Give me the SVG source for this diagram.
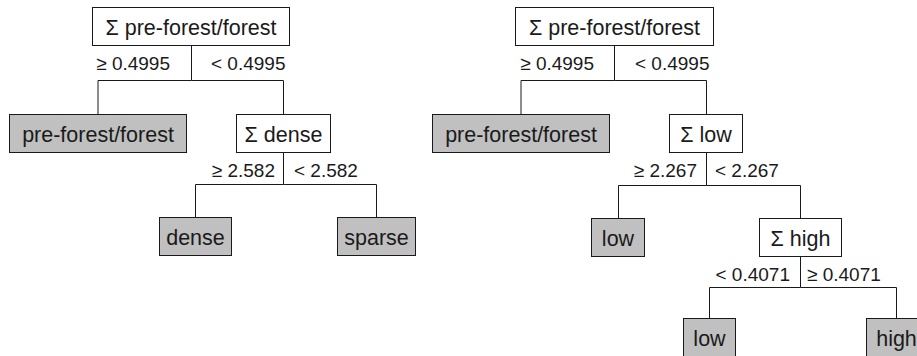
<svg xmlns="http://www.w3.org/2000/svg" width="917" height="356" viewBox="0 0 917 356">
  <style>
    .box { fill: #ffffff; stroke: #1a1a1a; stroke-width: 1; }
    .leaf { fill: #c0c0c0; stroke: #1a1a1a; stroke-width: 1; }
    .nt { font-family: "Liberation Sans", Arial, sans-serif; font-size: 21.5px; fill: #1a1a1a; text-anchor: middle; }
    .lbl { font-family: "Liberation Sans", Arial, sans-serif; font-size: 19px; fill: #1a1a1a; }
    .end { text-anchor: end; }
    .edge { fill: none; stroke: #1a1a1a; stroke-width: 1; }
  </style>
  <rect width="917" height="356" fill="#ffffff"/>

  <!-- connectors: parent stem, horizontal bar, child drop -->
  <g id="connectors">
    <path class="edge" d="M191.5 45.5 V80.5 H98 V114.5"/>
    <path class="edge" d="M191.5 80.5 H283.5 V114.5"/>
    <path class="edge" d="M283.5 152.5 V184.5 H195.5 V217.5"/>
    <path class="edge" d="M283.5 184.5 H376.5 V217.5"/>

    <path class="edge" d="M614.5 45.5 V80.5 H521 V114.5"/>
    <path class="edge" d="M614.5 80.5 H706.5 V114.5"/>
    <path class="edge" d="M706.5 152.5 V185.5 H618.5 V218.5"/>
    <path class="edge" d="M706.5 185.5 H800.5 V218.5"/>
    <path class="edge" d="M800.5 256.5 V287.5 H709.5 V318.5"/>
    <path class="edge" d="M800.5 287.5 H896.5 V318.5"/>
  </g>

  <!-- split labels -->
  <g id="labels">
    <text class="lbl end" x="170" y="70">≥ 0.4995</text>
    <text class="lbl" x="211" y="70">&lt; 0.4995</text>
    <text class="lbl end" x="275" y="177">≥ 2.582</text>
    <text class="lbl" x="294" y="177">&lt; 2.582</text>

    <text class="lbl end" x="594" y="70">≥ 0.4995</text>
    <text class="lbl" x="635" y="70">&lt; 0.4995</text>
    <text class="lbl end" x="697" y="177">≥ 2.267</text>
    <text class="lbl" x="715" y="177">&lt; 2.267</text>
    <text class="lbl end" x="790" y="281">&lt; 0.4071</text>
    <text class="lbl" x="807" y="281">≥ 0.4071</text>
  </g>

  <!-- left tree -->
  <g id="l-root">
    <rect class="box" x="92.5" y="7.5" width="197" height="38"/>
    <text class="nt" x="191" y="34.5">Σ pre-forest/forest</text>
  </g>
  <g id="l-leaf-forest">
    <rect class="leaf" x="9.5" y="114.5" width="177" height="38"/>
    <text class="nt" x="98" y="141.5">pre-forest/forest</text>
  </g>
  <g id="l-dense-split">
    <rect class="box" x="236.5" y="114.5" width="94" height="38"/>
    <text class="nt" x="283.5" y="141.5">Σ dense</text>
  </g>
  <g id="l-leaf-dense">
    <rect class="leaf" x="159.5" y="217.5" width="72" height="38"/>
    <text class="nt" x="195.5" y="244.5">dense</text>
  </g>
  <g id="l-leaf-sparse">
    <rect class="leaf" x="337.5" y="217.5" width="78" height="38"/>
    <text class="nt" x="376.5" y="244.5">sparse</text>
  </g>

  <!-- right tree -->
  <g id="r-root">
    <rect class="box" x="515.5" y="7.5" width="198" height="38"/>
    <text class="nt" x="614.5" y="34.5">Σ pre-forest/forest</text>
  </g>
  <g id="r-leaf-forest">
    <rect class="leaf" x="432.5" y="114.5" width="177" height="38"/>
    <text class="nt" x="521" y="141.5">pre-forest/forest</text>
  </g>
  <g id="r-low-split">
    <rect class="box" x="669.5" y="114.5" width="73" height="38"/>
    <text class="nt" x="706" y="141.5">Σ low</text>
  </g>
  <g id="r-leaf-low">
    <rect class="leaf" x="591.5" y="218.5" width="53" height="38"/>
    <text class="nt" x="618" y="245.5">low</text>
  </g>
  <g id="r-high-split">
    <rect class="box" x="759.5" y="218.5" width="82" height="38"/>
    <text class="nt" x="800.5" y="245.5">Σ high</text>
  </g>
  <g id="r-leaf-low2">
    <rect class="leaf" x="683.5" y="318.5" width="52" height="38"/>
    <text class="nt" x="709.5" y="345.5">low</text>
  </g>
  <g id="r-leaf-high">
    <rect class="leaf" x="866.5" y="318.5" width="60" height="38"/>
    <text class="nt" x="896.5" y="345.5">high</text>
  </g>
</svg>
